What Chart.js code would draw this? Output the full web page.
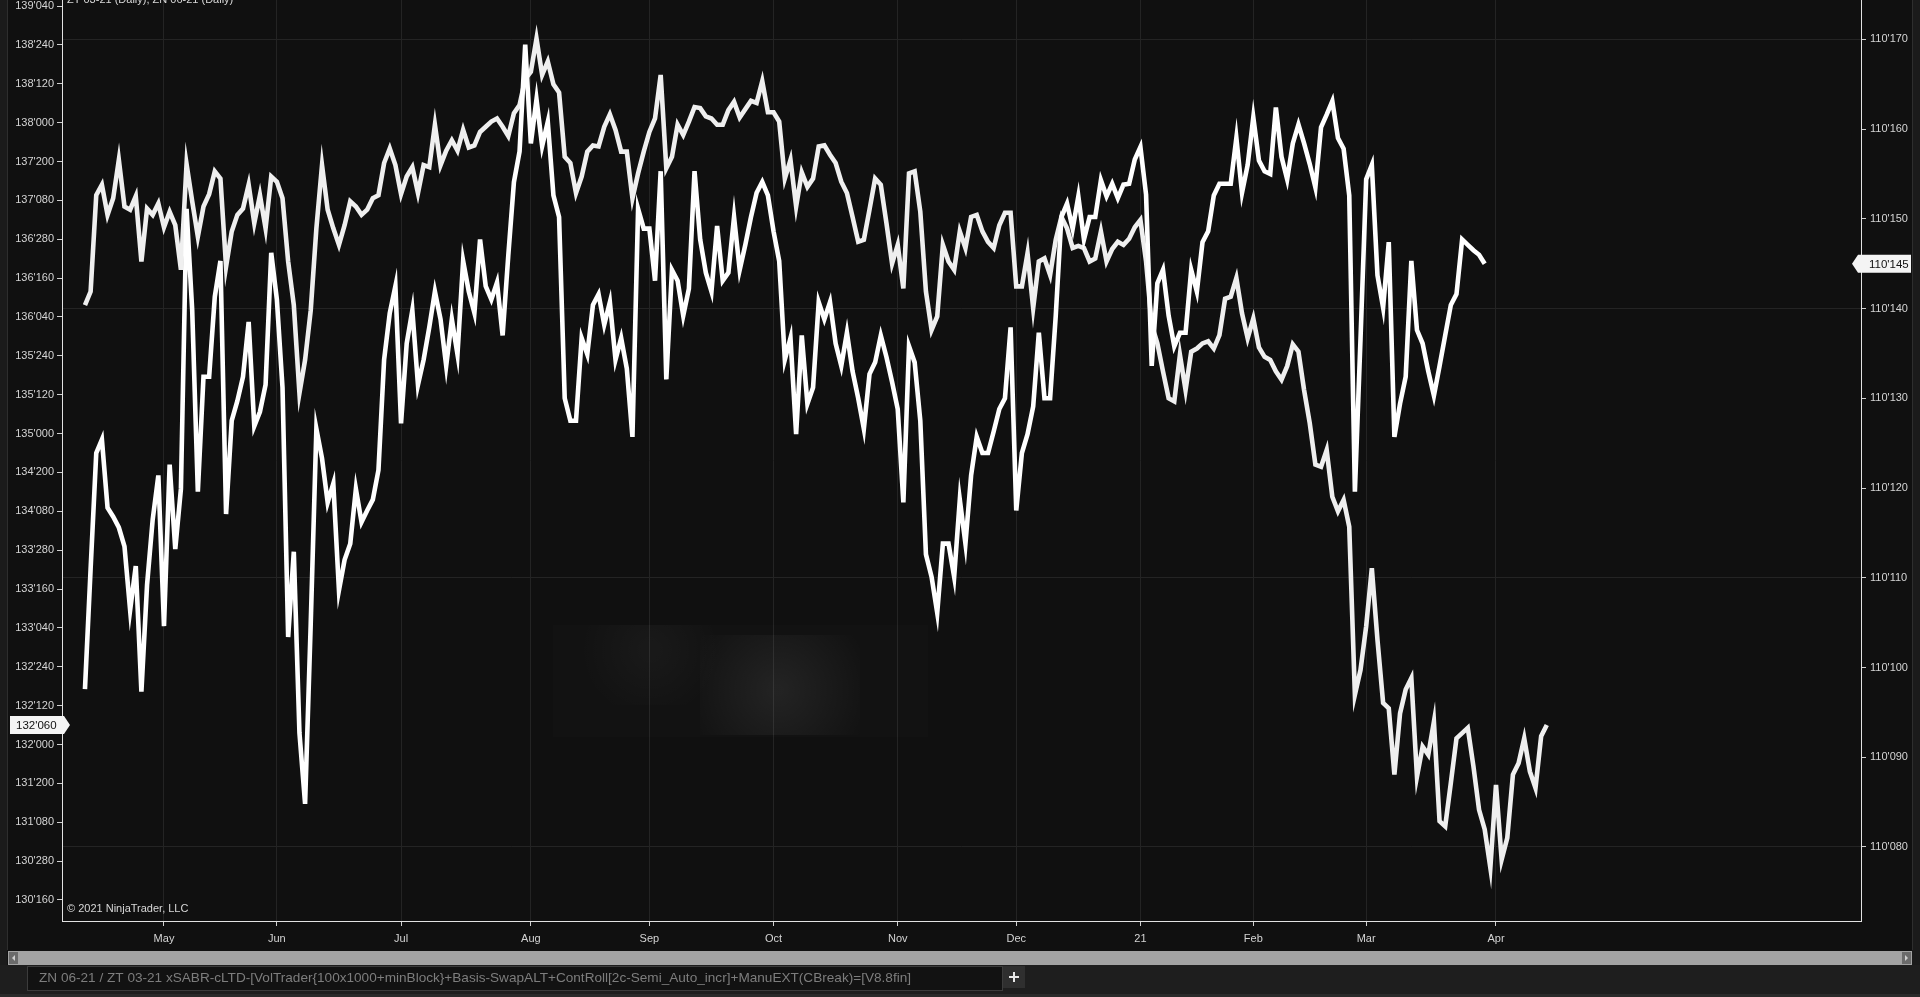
<!DOCTYPE html>
<html>
<head>
<meta charset="utf-8">
<script src="https://cdn.jsdelivr.net/npm/chart.js@4.4.1/dist/chart.umd.min.js"></script>
<style>
  html, body { margin: 0; padding: 0; background: #101010; overflow: hidden; }
  canvas { display: block; }
</style>
</head>
<body>
<canvas id="chart" width="1920" height="997"></canvas>
<script>
// daily bars, x = bar index (first bar mid-April 2020)
const monthTicks = [14, 34, 56, 79, 100, 122, 144, 165, 187, 207, 227, 250];
const monthLabels = ["May", "Jun", "Jul", "Aug", "Sep", "Oct", "Nov", "Dec", "21", "Feb", "Mar", "Apr"];

// ZN 06-21 closes (left axis, decimal points)
const znCloses = [
  136.24,136.37,137.30,137.40,137.11,137.27,137.64,137.19,137.16,137.29,
  136.66,137.17,137.11,137.22,136.99,137.14,137.01,136.58,137.60,137.24,
  136.90,137.19,137.31,137.53,137.46,136.61,136.95,137.11,137.17,137.40,
  137.03,137.30,136.98,137.48,137.43,137.27,136.66,136.24,135.39,135.71,
  136.19,136.98,137.59,137.16,136.98,136.82,137.01,137.24,137.19,137.11,
  137.16,137.27,137.30,137.61,137.75,137.59,137.31,137.48,137.57,137.32,
  137.59,137.57,137.98,137.59,137.73,137.83,137.73,137.93,137.76,137.78,
  137.91,137.96,138.01,138.04,137.96,137.87,138.09,138.17,138.42,138.49,
  138.81,138.46,138.59,138.37,138.29,137.67,137.61,137.32,137.48,137.72,
  137.78,137.77,137.96,138.08,137.93,137.72,137.72,137.27,137.51,137.72,
  137.91,138.04,138.46,137.56,137.67,137.98,137.88,138.01,138.15,138.14,
  138.06,138.04,137.98,137.98,138.12,138.20,138.05,138.13,138.21,138.19,
  138.40,138.10,138.10,138.01,137.46,137.64,137.19,137.52,137.38,137.46,
  137.77,137.78,137.69,137.61,137.43,137.32,137.09,136.85,136.87,137.16,
  137.46,137.40,137.03,136.64,136.82,136.40,137.51,137.53,137.14,136.37,
  136.00,136.13,136.82,136.66,136.58,136.95,136.79,137.09,137.11,136.95,
  136.85,136.79,137.01,137.13,137.13,136.42,136.42,136.74,136.21,136.66,
  136.69,136.53,136.87,137.09,136.98,136.79,136.81,136.79,136.66,136.69,
  136.95,136.66,136.78,136.85,136.82,136.88,136.99,137.06,136.66,136.05,
  135.87,135.60,135.34,135.31,135.76,135.42,135.79,135.82,135.87,135.89,
  135.82,135.95,136.30,136.32,136.50,136.16,135.92,136.11,135.83,135.74,
  135.71,135.60,135.52,135.65,135.86,135.79,135.42,135.10,134.70,134.68,
  134.84,134.39,134.25,134.36,134.10,132.48,132.72,133.14,133.70,133.01,
  132.40,132.35,131.71,132.30,132.53,132.64,131.69,131.98,131.90,132.22,
  131.26,131.21,131.63,132.06,132.11,132.16,131.79,131.37,131.18,130.81,
  131.61,130.89,131.10,131.71,131.82,132.06,131.74,131.58,132.08,132.1875
];

// ZT 03-21 closes (right axis), in 32nds above the 110 handle
const ztHandle = 110;
const zt32nds = [
  9.76,11.10,12.39,12.54,11.78,11.68,11.56,11.35,10.64,11.13,
  9.73,10.92,11.65,12.14,10.46,12.26,11.32,11.99,15.11,13.98,
  11.96,13.24,13.24,14.13,14.53,11.71,12.75,12.97,13.24,13.85,
  12.69,12.85,13.15,14.62,14.10,13.12,10.34,11.29,9.27,8.48,
  10.49,12.66,12.33,11.84,12.05,10.86,11.20,11.38,11.99,11.62,
  11.75,11.87,12.20,13.43,13.95,14.25,12.72,13.61,13.98,13.15,
  13.43,13.79,14.19,13.88,13.36,13.88,13.49,14.53,14.19,13.95,
  14.77,14.25,14.10,14.29,13.70,14.59,15.41,15.75,16.94,15.84,
  16.33,15.81,16.08,15.26,15.02,13.00,12.75,12.75,13.67,13.49,
  14.04,14.16,13.82,14.07,13.43,13.67,13.33,12.57,15.11,14.89,
  14.89,14.31,15.53,13.21,14.43,14.31,13.92,14.22,15.53,14.77,
  14.40,14.19,14.92,14.31,14.40,15.02,14.43,14.71,15.02,15.29,
  15.41,15.26,14.86,14.53,13.43,13.67,12.60,13.70,12.94,13.12,
  14.07,13.88,14.07,13.61,13.36,13.73,13.30,13.00,12.66,13.27,
  13.40,13.70,13.46,13.18,12.88,11.84,13.58,13.40,12.75,11.26,
  11.01,10.61,11.38,11.38,11.01,11.87,11.38,12.14,12.57,12.39,
  12.39,12.63,12.88,13.00,13.79,11.75,12.39,12.60,12.91,13.73,
  13.00,13.00,13.92,15.02,15.17,14.89,15.25,14.77,15.02,15.02,
  15.43,15.25,15.39,15.23,15.38,15.39,15.66,15.80,15.27,13.36,
  14.28,14.43,13.92,13.58,13.73,13.73,14.43,14.19,14.74,14.86,
  15.26,15.39,15.39,15.39,15.90,15.29,15.60,16.13,15.65,15.53,
  15.50,16.24,15.69,15.44,15.84,16.05,15.84,15.61,15.35,16.02,
  16.16,16.31,15.90,15.78,15.26,11.96,13.67,15.44,15.60,14.37,
  14.01,14.74,12.57,12.94,13.24,14.53,13.76,13.61,13.30,13.03,
  13.36,13.70,14.04,14.16,14.77,14.71,14.65,14.60,14.50
];

const znTickValues = [130.5, 130.875, 131.25, 131.625, 132, 132.375, 132.75, 133.125, 133.5, 133.875,
  134.25, 134.625, 135, 135.375, 135.75, 136.125, 136.5, 136.875, 137.25, 137.625, 138, 138.375, 138.75, 139.125];
const ztTick32nds = [8, 9, 10, 11, 12, 13, 14, 15, 16, 17];

const headerText = "ZT 03-21 (Daily), ZN 06-21 (Daily)";
const footerText = "ZN 06-21 / ZT 03-21 xSABR-cLTD-[VolTrader{100x1000+minBlock}+Basis-SwapALT+ContRoll[2c-Semi_Auto_incr]+ManuEXT(CBreak)=[V8.8fin]";

const FONT = "'Liberation Sans', Arial, sans-serif";
Chart.defaults.font.family = FONT;

// price -> 132'060 style
function fmt32(v) {
  const whole = Math.floor(v + 1e-9);
  const f = (v - whole) * 32;
  const n = Math.floor(f + 1e-6);
  const r = f - n;
  const d = r < 0.125 ? 0 : r < 0.375 ? 2 : r < 0.625 ? 5 : 7;
  return whole + "'" + String(n).padStart(2, "0") + d;
}

const ztPrices = zt32nds.map(v => ztHandle + v / 32);
const znPoints = znCloses.map((v, i) => ({ x: i, y: v }));
const ztPoints = ztPrices.map((v, i) => ({ x: i, y: v }));

function noPad(s) { s.paddingTop = 0; s.paddingBottom = 0; s.paddingLeft = 0; s.paddingRight = 0; }

function tag(ctx, y, text, side) {
  ctx.save();
  ctx.fillStyle = "#f4f4f4";
  ctx.beginPath();
  if (side === "left") {
    ctx.moveTo(10, y - 9); ctx.lineTo(64, y - 9); ctx.lineTo(70, y); ctx.lineTo(64, y + 9); ctx.lineTo(10, y + 9);
  } else {
    ctx.moveTo(1911, y - 9); ctx.lineTo(1858, y - 9); ctx.lineTo(1852, y); ctx.lineTo(1858, y + 9); ctx.lineTo(1911, y + 9);
  }
  ctx.closePath();
  ctx.fill();
  ctx.fillStyle = "#111";
  ctx.font = "11.5px " + FONT;
  ctx.textBaseline = "middle";
  ctx.textAlign = "left";
  ctx.fillText(text, side === "left" ? 16 : 1869, y + 1);
  ctx.restore();
}

const decor = {
  id: "decor",
  beforeDraw(chart) {
    const ctx = chart.ctx;
    ctx.save();
    ctx.fillStyle = "#101010";
    ctx.fillRect(0, 0, 1920, 997);
    ctx.fillStyle = "#1b1b1b";
    ctx.fillRect(0, 0, 7, 997);
    ctx.fillRect(1912, 0, 8, 997);
    ctx.fillStyle = "#2e2e2e";
    ctx.fillRect(7, 0, 1, 950);
    ctx.fillRect(1912, 0, 1, 950);
    ctx.restore();
  },
  beforeDatasetsDraw(chart) {
    // faint blurred watermark
    const ctx = chart.ctx;
    ctx.save();
    ctx.fillStyle = "rgba(255,255,255,0.012)";
    ctx.fillRect(553, 625, 375, 112);
    const g = ctx.createRadialGradient(778, 690, 5, 778, 690, 95);
    g.addColorStop(0, "rgba(255,255,255,0.07)");
    g.addColorStop(1, "rgba(255,255,255,0)");
    ctx.fillStyle = g;
    ctx.fillRect(700, 635, 160, 100);
    const g2 = ctx.createRadialGradient(650, 650, 5, 650, 650, 70);
    g2.addColorStop(0, "rgba(255,255,255,0.03)");
    g2.addColorStop(1, "rgba(255,255,255,0)");
    ctx.fillStyle = g2;
    ctx.fillRect(580, 625, 160, 80);
    ctx.restore();
  },
  afterDraw(chart) {
    const ctx = chart.ctx;
    ctx.save();
    ctx.fillStyle = "#d8d8d8";
    ctx.font = "11px " + FONT;
    ctx.textAlign = "left";
    ctx.textBaseline = "alphabetic";
    ctx.fillText(headerText, 67, 3);
    ctx.fillText("\u00a9 2021 NinjaTrader, LLC", 67, 912);

    // scrollbar
    ctx.fillStyle = "#a3a3a3";
    ctx.fillRect(8, 951, 1904, 14);
    ctx.fillStyle = "#6b6b6b";
    ctx.fillRect(9, 952, 9, 12);
    ctx.fillRect(1902, 952, 9, 12);
    ctx.fillStyle = "#cfcfcf";
    ctx.beginPath(); ctx.moveTo(15, 955); ctx.lineTo(12, 958); ctx.lineTo(15, 961); ctx.fill();
    ctx.beginPath(); ctx.moveTo(1905, 955); ctx.lineTo(1908, 958); ctx.lineTo(1905, 961); ctx.fill();

    // bottom tab strip
    ctx.fillStyle = "#1e1e1e";
    ctx.fillRect(0, 965, 1920, 32);
    ctx.fillStyle = "#121212";
    ctx.fillRect(27, 966, 975, 24);
    ctx.strokeStyle = "#3c3c3c";
    ctx.lineWidth = 1;
    ctx.strokeRect(27.5, 966.5, 975, 24);
    ctx.fillStyle = "#7d7d7d";
    ctx.font = "13.6px " + FONT;
    ctx.textBaseline = "middle";
    ctx.fillText(footerText, 39, 978);
    ctx.fillStyle = "#2f2f2f";
    ctx.fillRect(1003, 966, 22, 22);
    ctx.fillStyle = "#e8e8e8";
    ctx.fillRect(1009, 976, 10, 2);
    ctx.fillRect(1013, 972, 2, 10);
    ctx.fillStyle = "#2a2a2a";
    ctx.fillRect(0, 994, 1920, 3);

    // last-price tags
    const zn = chart.scales.yZN, zt = chart.scales.yZT;
    const lastZn = znCloses[znCloses.length - 1];
    const lastZt = ztPrices[ztPrices.length - 1];
    tag(ctx, zn.getPixelForValue(lastZn), fmt32(lastZn), "left");
    tag(ctx, zt.getPixelForValue(lastZt), fmt32(lastZt), "right");
    ctx.restore();
  }
};

new Chart(document.getElementById("chart"), {
  type: "line",
  data: {
    datasets: [
      { label: "ZT 03-21", data: ztPoints, yAxisID: "yZT", borderColor: "#ffffff", borderWidth: 4.6, order: 0 },
      { label: "ZN 06-21", data: znPoints, yAxisID: "yZN", borderColor: "#efefef", borderWidth: 4.6, order: 1 }
    ]
  },
  options: {
    responsive: false,
    animation: false,
    devicePixelRatio: 1,
    layout: { padding: 0 },
    elements: { point: { radius: 0 }, line: { tension: 0, borderJoinStyle: "miter" } },
    plugins: { legend: { display: false }, tooltip: { enabled: false } },
    scales: {
      x: {
        type: "linear",
        min: -4.07,
        max: 314.67,
        afterBuildTicks: s => { s.ticks = monthTicks.map(v => ({ value: v })); },
        afterFit: s => { s.height = 76; noPad(s); },
        ticks: {
          callback: v => monthLabels[monthTicks.indexOf(v)],
          color: "#d4d4d4", font: { size: 11 }, padding: 6, maxRotation: 0, autoSkip: false
        },
        grid: { color: "#242424", tickColor: "#d0d0d0", tickLength: 5 },
        border: { color: "#e2e2e2" }
      },
      yZN: {
        position: "left",
        min: 130.297,
        max: 139.183,
        afterBuildTicks: s => { s.ticks = znTickValues.map(v => ({ value: v })); },
        afterFit: s => { s.width = 62; noPad(s); },
        ticks: { callback: v => fmt32(v), color: "#d4d4d4", font: { size: 11 }, padding: 3, autoSkip: false },
        grid: { drawOnChartArea: false, tickColor: "#d0d0d0", tickLength: 5 },
        border: { color: "#e2e2e2" }
      },
      yZT: {
        position: "right",
        min: ztHandle + 7.175 / 32,
        max: ztHandle + 17.438 / 32,
        afterBuildTicks: s => { s.ticks = ztTick32nds.map(n => ({ value: ztHandle + n / 32 })); },
        afterFit: s => { s.width = 59; noPad(s); },
        ticks: { callback: v => fmt32(v), color: "#d4d4d4", font: { size: 11 }, padding: 4, autoSkip: false },
        grid: {
          color: c => (c.index % 3 === 0 ? "#242424" : "rgba(0,0,0,0)"),
          tickColor: "#d0d0d0", tickLength: 5
        },
        border: { color: "#e2e2e2" }
      }
    }
  },
  plugins: [decor]
});
</script>
</body>
</html>
